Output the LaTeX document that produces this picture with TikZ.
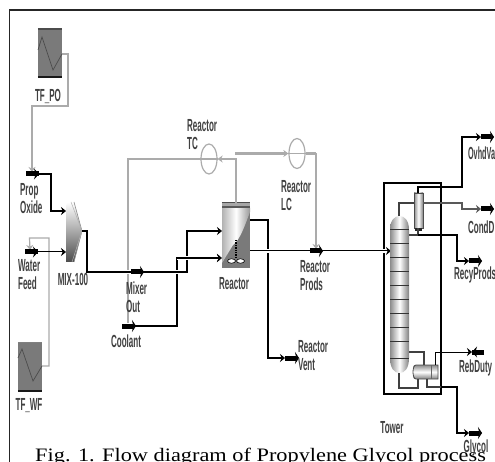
\documentclass[tikz,border=0pt]{standalone}
\usepackage{fontspec}
\setmainfont{Liberation Sans}
\newfontfamily\captionfont{Liberation Serif}
\usetikzlibrary{arrows.meta}
\definecolor{linegray}{HTML}{ABABAB}
\definecolor{bodygray}{HTML}{7A7A7A}
\tikzset{
  lbl/.style={font=\bfseries\fontsize{17.5}{18}\selectfont, xscale=.46, inner sep=0pt, align=left, text=black!75},
  stream/.style={draw=black, line width=1.6pt, -{Stealth[length=5pt,width=8pt]}},
  thinstream/.style={stream, line width=1pt},
  bar/.style={draw=black, line width=5pt, -{Stealth[length=4pt,width=12pt]}},
  ctrl/.style={draw=linegray, line width=1.2pt, -{Stealth[length=5pt,width=7pt]}},
  ctrlwide/.style={ctrl, line width=3pt},
  halo/.style={preaction={draw=white, line width=4.5pt, -}},
  heater/.style={fill=bodygray, minimum width=24pt, minimum height=48pt, inner sep=0pt},
  controller/.style={draw=linegray, line width=1.2pt, ellipse, minimum width=16pt, minimum height=30pt, inner sep=0pt},
  pipe/.style={draw=black!75, line width=1.2pt},
  vessel/.style={left color=black!45, right color=black!50, middle color=white}
}
\usetikzlibrary{shapes.geometric}
\begin{document}
\begin{tikzpicture}[x=1pt, y=-1pt]
    \clip (0,0) rectangle (495,462);
    \fill[white] (0,0) rectangle (495,462);
    \draw[black!85, line width=1.6pt] (495,10) -- (9.5,10) -- (9.5,462);

    \node[heater] (tfpo) at (50,53) {};
    \node[heater] (tfwf) at (30,366.5) {};
    \node[controller] (tc) at (209,159) {};
    \node[controller] (lc) at (297,153.5) {};
    \node[fill=bodygray, minimum width=28pt, minimum height=65pt, inner sep=0pt] (reactor) at (236,235.5) {};
    \node[draw=black, line width=1.8pt, minimum width=57pt, minimum height=211pt, inner sep=0pt] (towerbox) at (412.5,288.5) {};

    \coordinate (poheat) at (62,54);
    \coordinate (wfheat) at (42,366);
    \coordinate (pobar) at (26,174);
    \coordinate (pobarend) at (39,174);
    \coordinate (poduty) at (32,172);
    \coordinate (wfbar) at (25,252);
    \coordinate (wfbarend) at (38,252);
    \coordinate (wfduty) at (30,250);
    \coordinate (mixa) at (66,211);
    \coordinate (mixb) at (66,252);
    \coordinate (mixout) at (82,231);
    \coordinate (mixbar) at (131,272);
    \coordinate (mixbarend) at (144,272);
    \coordinate (coolbar) at (122,326);
    \coordinate (coolbarend) at (136,326);
    \coordinate (coolup) at (177,258);
    \coordinate (rxa) at (222,231);
    \coordinate (rxb) at (222,258);
    \coordinate (rxtop) at (236,204);
    \coordinate (rxvap) at (250,220);
    \coordinate (rxliq) at (250,251);
    \coordinate (ventbar) at (285,358);
    \coordinate (ventend) at (299,358);
    \coordinate (prodbar) at (310,251);
    \coordinate (prodend) at (323,251);
    \coordinate (lcdrop) at (316,249);
    \coordinate (coolduty) at (128,323);
    \coordinate (tcfeed) at (235,153.5);
    \coordinate (colin) at (391,251);
    \coordinate (coltop) at (399,216);
    \coordinate (colbot) at (399,373);
    \coordinate (colside) at (409,352);
    \coordinate (colliq) at (409,235);
    \coordinate (cndin) at (414,203);
    \coordinate (cndout) at (423,203);
    \coordinate (cndtop) at (418,193);
    \coordinate (cndbot) at (418,235);
    \coordinate (rebtl) at (424,365);
    \coordinate (rebtr) at (435,365);
    \coordinate (rebbl) at (418,379);
    \coordinate (rebbr) at (427,379);
    \coordinate (ovhdbar) at (481,137);
    \coordinate (ovhdend) at (494,137);
    \coordinate (condbar) at (481,209);
    \coordinate (condend) at (494,209);
    \coordinate (recybar) at (469,261);
    \coordinate (recyend) at (482,261);
    \coordinate (dutybar) at (484,352);
    \coordinate (dutyend) at (472,352);
    \coordinate (glybar) at (469,433);
    \coordinate (glyend) at (482,433);

    \draw[black!70, line width=1.8pt] (tfpo.north west) -- (tfpo.north east);
    \draw[black!90, line width=2pt] (tfpo.south west) -- (tfpo.south east);
    \draw[black!50, line width=1pt] (tfwf.north west) -- (tfwf.north east);
    \draw[black!90, line width=2pt] (tfwf.south west) -- (tfwf.south east);
    \draw[black!70, line width=.7pt] (38,50) -- (42,37) -- (53,70) -- (poheat);
    \draw[black!70, line width=.7pt] (18,358) -- (22,349) -- (33,381) -- (wfheat);

    \shade[top color=white, bottom color=black!70] (66,206) .. controls (66,203) and (68,202) .. (70,202) -- (74,202) -- (mixout) -- (74,262) -- (66,262) -- cycle;
    \draw[black!45, line width=.6pt] (74,202) -- (mixout) -- (74,262);
    \draw[black!30, line width=.5pt] (71,202) -- (mixout) -- (72,262);

    \shade[left color=black!30, right color=black!40, middle color=white] (222,208) -- (250,208) -- (250,212) .. controls (245,225) and (240,240) .. (233,245) -- (222,263) -- cycle;
    \fill[black!35] (222,203) rectangle (250,208);
    \draw[black!70, line width=1pt] (reactor.north west) -- (reactor.north east);
    \draw[black!65, line width=1.2pt] (222,207) -- (250,207);
    \draw[black, line width=1.4pt, densely dotted] (236,240) -- (236,258);
    \draw[black, fill=white, line width=.6pt] (231.5,261) ellipse (4 and 2.2);
    \draw[black, fill=white, line width=.6pt] (240.5,261) ellipse (4 and 2.2);

    \draw[ctrl] (poheat) -- (68,54) |- (32,106) -- (poduty);
    \draw[ctrl] (wfheat) -- (49,366) |- (29.5,238) -- (wfduty);
    \draw[ctrl] (rxtop) |- (tc.east);
    \draw[ctrl, -] (tc.west) -| (coolduty);
    \draw[ctrlwide] (tcfeed) -- (lc.west);
    \draw[linegray, line width=3pt] (lc.east) -- (316,153.5);
    \draw[ctrl] (316,153.5) -- (lcdrop);
    \draw[linegray, line width=1.6pt] (tc.west) -- (tc.east);
    \draw[linegray, line width=1.6pt] (lc.west) -- (lc.east);

    \draw[stream] (pobarend) -- (51,174) |- (mixa);
    \draw[bar, -] (pobar) -- (pobarend);
    \draw[black, -{Stealth[length=5pt,width=11pt]}, line width=1pt] (33,174) -- (pobarend);
    \draw[thinstream] (wfbarend) -- (mixb);
    \draw[bar, -] (wfbar) -- (wfbarend);
    \draw[black, -{Stealth[length=5pt,width=11pt]}, line width=1pt] (32,252) -- (wfbarend);

    \draw[stream] (coolbar) -| (coolup) -- (rxb);
    \draw[stream, halo] (mixout) -- (87,231) |- (187,272) |- (rxa);
    \draw[stream, halo] (coolup) -- (rxb);
    \draw[bar] (mixbar) -- (mixbarend);
    \draw[bar] (coolbar) -- (coolbarend);

    \draw[stream] (rxvap) -- (268,220) |- (ventbar);
    \draw[bar] (ventbar) -- (ventend);
    \draw[thinstream, halo] (rxliq) -- (colin);
    \draw[bar] (prodbar) -- (prodend);

    \shade[vessel] (390,230) .. controls (390,221) and (394,216) .. (399.5,216) .. controls (405,216) and (409,221) .. (409,230) -- (409,358) .. controls (409,368) and (405,373) .. (399.5,373) .. controls (394,373) and (390,368) .. (390,358) -- cycle;
    \foreach \traypos in {230,244,258,272,285,299,313,327,341,358}
        \draw[black!80, line width=1pt] (390,\traypos) -- (409,\traypos);
    \shade[vessel] (414,193) -- (423,193) -- (423,228) -- (414,228) -- cycle;
    \draw[black!70, line width=.6pt] (414,193) rectangle (423,228);
    \fill[black!85] (415,228) rectangle (422,231);
    \shade[top color=black!45, bottom color=black!50, middle color=white] (413,367) .. controls (413,365) and (415,365) .. (416,365) -- (438,365) -- (438,379) -- (416,379) .. controls (415,379) and (413,379) .. (413,377) -- cycle;
    \draw[black!70, line width=.8pt] (416,365) -- (438,365) -- (438,379) -- (416,379) .. controls (412,379) and (412,365) .. (416,365);
    \draw[black!60, line width=.8pt] (431,365) -- (431,379);

    \draw[pipe] (coltop) -- (399,203) -- (cndin);
    \draw[pipe] (colliq) -- (cndbot) -- (418,228);
    \draw[stream] (cndtop) -- (418,187) -- (462,187) |- (ovhdbar);
    \draw[bar] (ovhdbar) -- (ovhdend);
    \draw[stream, draw=black!65] (cndout) -- (462,203) |- (condbar);
    \draw[bar] (condbar) -- (condend);
    \draw[stream] (cndbot) -- (457,235) |- (recybar);
    \draw[bar] (recybar) -- (recyend);
    \draw[pipe] (colside) -- (424,352) -- (rebtl);
    \draw[pipe] (colbot) -- (399,388) -| (rebbl);
    \draw[thinstream] (rebtr) |- (dutyend);
    \draw[bar, -] (dutybar) -- (dutyend);
    \draw[black, -{Stealth[length=5pt,width=11pt]}, line width=1pt] (476,352) -- (dutyend);
    \draw[pipe] (rebbr) |- (441,387);
    \draw[stream, line width=2.6pt] (441,387) -- (457,387) |- (glybar);
    \draw[bar] (glybar) -- (glyend);

    \node[lbl] (tfpolbl) at (48,96) {TF\_PO};
    \node[lbl] (tfwflbl) at (29,406) {TF\_WF};
    \node[lbl, anchor=north west] (proplbl) at (20,183) {Prop\\Oxide};
    \node[lbl, anchor=north west] (waterlbl) at (18,259) {Water\\Feed};
    \node[lbl] (mixlbl) at (73,279) {MIX-100};
    \node[lbl, anchor=north west] (outlbl) at (126,282) {Mixer\\Out};
    \node[lbl] (coollbl) at (126,341) {Coolant};
    \node[lbl, anchor=north west] (tclbl) at (187,119) {Reactor\\TC};
    \node[lbl, anchor=north west] (lclbl) at (281,180) {Reactor\\LC};
    \node[lbl] (rxlbl) at (234,284) {Reactor};
    \node[lbl, anchor=north west] (prodlbl) at (300,260) {Reactor\\Prods};
    \node[lbl, anchor=north west] (ventlbl) at (298,340) {Reactor\\Vent};
    \node[lbl] (towerlbl) at (392,428) {Tower};
    \node[lbl, anchor=west, xscale=.9] (ovhdlbl) at (468,153) {OvhdVa};
    \node[lbl, anchor=west] (condlbl) at (468,227) {CondD};
    \node[lbl, anchor=west] (recylbl) at (454,275) {RecyProds};
    \node[lbl, anchor=west] (dutylbl) at (459,368) {RebDuty};
    \node[font=\captionfont\fontsize{19}{19}\selectfont, xscale=1.175, anchor=base west, inner sep=0pt] (figcap) at (35,461) {Fig. 1. Flow diagram of Propylene Glycol process};
    \node[lbl] (glylbl) at (476,448) {Glycol};
\end{tikzpicture}
\end{document}
